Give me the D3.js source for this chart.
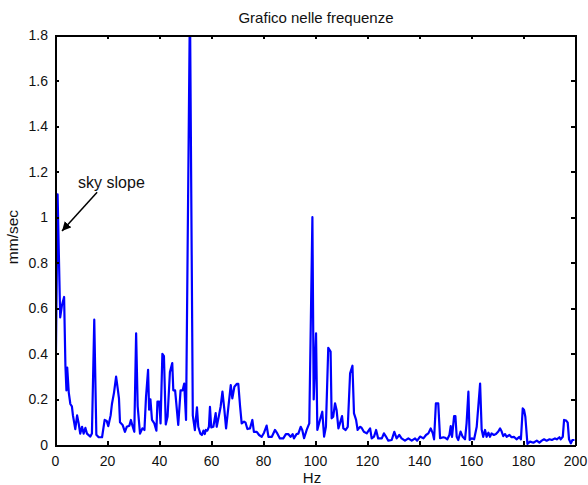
<!DOCTYPE html>
<meta charset="utf-8">
<style>
  body { margin: 0; background: #fff; }
  .axis path, .axis line { fill: none; stroke: #000; stroke-width: 2; shape-rendering: crispEdges; }
  .axis text { font-family: "Liberation Sans", Arial, sans-serif; font-size: 14px; fill: #111; }
  .lbl { font-family: "Liberation Sans", Arial, sans-serif; font-size: 15px; fill: #111; }
</style>
<script src="https://cdnjs.cloudflare.com/ajax/libs/d3/7.8.5/d3.min.js"></script>
<div id="chart"></div>
<script>
// spectrum: frequency (Hz) and amplitude (mm/sec)
var hz = [0, 1.0, 1.7, 2.0, 2.7, 3.5, 4.0, 4.4, 4.7, 5.3, 5.9, 6.5, 6.9, 7.8, 8.5, 9.1, 9.7, 10.4, 11.0, 11.7,
  12.3, 13.6, 14.2, 15.1, 15.9, 16.8, 18.1, 19.1, 19.9, 20.5, 21.4, 21.9, 22.7, 23.5, 24.1, 24.6, 25.0, 26.0, 26.9, 27.6,
  28.6, 29.2, 29.9, 30.5, 31.2, 31.8, 32.7, 33.6, 34.4, 35.0, 35.8, 36.2, 36.7, 37.3, 38.2, 39.0, 39.4, 40.1, 40.6, 41.3,
  41.9, 42.6, 43.3, 44.2, 45.1, 45.5, 46.2, 47.4, 48.3, 49.1, 49.7, 50.4, 51.9, 53.0, 53.8, 54.6, 55.1, 55.9, 56.5, 57.1,
  57.6, 58.0, 58.6, 59.2, 59.6, 60.1, 60.9, 61.8, 62.2, 63.1, 63.7, 64.4, 65.1, 65.8, 66.7, 67.6, 68.2, 69.0, 69.9, 70.5,
  71.2, 71.8, 72.7, 73.3, 74.0, 75.0, 75.9, 76.5, 77.6, 78.5, 79.5, 80.4, 81.4, 82.1, 83.4, 84.6, 85.5, 86.5, 87.8, 88.8,
  89.7, 90.6, 91.4, 91.9, 92.9, 93.6, 94.5, 95.1, 95.8, 96.8, 97.8, 99.0, 99.5, 100.4, 100.9, 101.9, 102.8, 103.5, 104.2, 105.1,
  106.0, 106.4, 107.0, 107.7, 108.3, 109.0, 109.6, 110.4, 110.9, 111.8, 112.6, 113.5, 114.4, 115.0, 115.8, 116.4, 117.3, 117.9, 118.8, 119.9,
  121.2, 121.8, 122.7, 123.5, 124.3, 125.7, 126.5, 127.3, 128.2, 129.5, 130.5, 131.4, 132.4, 133.3, 134.6, 135.9, 137.2, 138.5, 139.3, 140.4,
  141.7, 142.7, 143.6, 144.5, 145.3, 145.8, 146.5, 147.4, 148.1, 149.4, 150.0, 150.9, 151.7, 152.2, 152.7, 153.5, 154.0, 154.5, 155.1, 156.0,
  156.8, 157.7, 158.3, 159.0, 159.5, 160.3, 161.2, 162.2, 163.5, 164.1, 164.7, 165.4, 166.0, 166.7, 167.3, 167.9, 168.8, 169.6, 170.5, 171.2,
  171.8, 172.4, 173.1, 173.7, 174.8, 175.6, 176.5, 177.5, 178.6, 179.2, 179.9, 180.4, 180.9, 181.7, 182.7, 184.0, 185.3, 186.3, 187.2, 188.1,
  189.1, 190.2, 191.1, 192.3, 193.0, 194.0, 194.5, 195.3, 195.8, 196.6, 197.2, 197.7, 198.4, 199.0, 199.8];
var amp = [0.01, 1.10, 0.72, 0.56, 0.615, 0.65, 0.35, 0.24, 0.34, 0.23, 0.18, 0.17, 0.13, 0.07, 0.13, 0.095, 0.05, 0.08, 0.05, 0.075,
  0.05, 0.037, 0.05, 0.55, 0.045, 0.034, 0.034, 0.11, 0.105, 0.083, 0.13, 0.18, 0.23, 0.30, 0.25, 0.205, 0.10, 0.088, 0.058, 0.08,
  0.085, 0.11, 0.08, 0.058, 0.49, 0.17, 0.05, 0.073, 0.066, 0.21, 0.33, 0.155, 0.20, 0.11, 0.095, 0.063, 0.19, 0.19, 0.095, 0.40,
  0.39, 0.09, 0.125, 0.32, 0.36, 0.24, 0.24, 0.088, 0.24, 0.24, 0.27, 0.11, 1.95, 0.13, 0.065, 0.165, 0.08, 0.05, 0.044, 0.063,
  0.048, 0.066, 0.063, 0.08, 0.167, 0.077, 0.08, 0.14, 0.08, 0.132, 0.168, 0.234, 0.16, 0.073, 0.168, 0.263, 0.205, 0.256, 0.268, 0.268,
  0.168, 0.095, 0.103, 0.098, 0.07, 0.073, 0.11, 0.058, 0.058, 0.044, 0.036, 0.054, 0.085, 0.036, 0.036, 0.066, 0.051, 0.029, 0.029, 0.048,
  0.048, 0.036, 0.048, 0.029, 0.048, 0.05, 0.08, 0.066, 0.03, 0.066, 0.095, 1.0, 0.20, 0.49, 0.066, 0.11, 0.146, 0.037, 0.08, 0.427,
  0.41, 0.117, 0.124, 0.183, 0.154, 0.073, 0.095, 0.127, 0.073, 0.066, 0.08, 0.315, 0.348, 0.139, 0.11, 0.066, 0.08, 0.076, 0.058, 0.051,
  0.073, 0.029, 0.037, 0.066, 0.029, 0.029, 0.051, 0.037, 0.019, 0.022, 0.058, 0.029, 0.044, 0.029, 0.019, 0.029, 0.019, 0.029, 0.019, 0.037,
  0.029, 0.044, 0.051, 0.073, 0.051, 0.025, 0.183, 0.183, 0.03, 0.034, 0.032, 0.025, 0.044, 0.083, 0.036, 0.127, 0.127, 0.036, 0.022, 0.059,
  0.036, 0.025, 0.095, 0.234, 0.022, 0.029, 0.025, 0.08, 0.27, 0.068, 0.036, 0.066, 0.036, 0.054, 0.036, 0.051, 0.044, 0.048, 0.059, 0.073,
  0.059, 0.039, 0.048, 0.036, 0.044, 0.034, 0.036, 0.025, 0.036, 0.025, 0.161, 0.154, 0.124, 0.005, 0.015, 0.010, 0.019, 0.010, 0.019, 0.025,
  0.019, 0.025, 0.022, 0.029, 0.025, 0.034, 0.025, 0.036, 0.110, 0.107, 0.098, 0.025, 0.007, 0.022, 0.022];

var xTicks = [0, 20, 40, 60, 80, 100, 120, 140, 160, 180, 200];
var yTicks = [0, 0.2, 0.4, 0.6, 0.8, 1, 1.2, 1.4, 1.6, 1.8];
var note = {text: "sky slope", from: [16.2, 1.11], to: [2.7, 0.94]};

var margin = {top: 35, right: 13, bottom: 40, left: 55},
    width = 588 - margin.left - margin.right,
    height = 485 - margin.top - margin.bottom;

var svg = d3.select("#chart")
  .append("svg")
    .attr("width", 588)
    .attr("height", 485)
  .append("g")
    .attr("transform", "translate(" + margin.left + "," + margin.top + ")");

var x = d3.scaleLinear().domain([0, 200]).range([0, width]);
var y = d3.scaleLinear().domain([0, 1.8]).range([height, 0]);

svg.append("clipPath").attr("id", "clip")
  .append("rect").attr("width", width).attr("height", height);

// data line
var pts = hz.map(function(h, i) { return [h, amp[i]]; });
var line = d3.line()
  .x(function(d) { return x(d[0]); })
  .y(function(d) { return y(d[1]); });
svg.append("path")
  .datum(pts)
  .attr("clip-path", "url(#clip)")
  .attr("fill", "none")
  .attr("stroke", "#0000ff")
  .attr("stroke-width", 2.2)
  .attr("stroke-linejoin", "round")
  .attr("d", line);

// axes, ticks pointing inward like matlab box
svg.append("g").attr("class", "axis")
  .attr("transform", "translate(0," + height + ")")
  .call(d3.axisBottom(x).tickValues(xTicks).tickSize(-4).tickPadding(11).tickSizeOuter(0));
svg.append("g").attr("class", "axis")
  .call(d3.axisTop(x).tickValues(xTicks).tickSize(-4).tickFormat("").tickSizeOuter(0));
svg.append("g").attr("class", "axis")
  .call(d3.axisLeft(y).tickValues(yTicks).tickSize(-4).tickPadding(7).tickSizeOuter(0)
    .tickFormat(function(d) { return d3.format("~g")(d); }));
svg.append("g").attr("class", "axis")
  .attr("transform", "translate(" + width + ",0)")
  .call(d3.axisRight(y).tickValues(yTicks).tickSize(-4).tickFormat("").tickSizeOuter(0));

// titles
svg.append("text").attr("class", "lbl")
  .attr("x", width / 2 + 1).attr("y", -12)
  .attr("text-anchor", "middle")
  .text("Grafico nelle frequenze");
svg.append("text").attr("class", "lbl")
  .attr("x", width / 2 - 3).attr("y", height + 38)
  .attr("text-anchor", "middle")
  .text("Hz");
svg.append("text").attr("class", "lbl")
  .attr("transform", "rotate(-90)")
  .style("font-size", "15.5px")
  .attr("x", -(height / 2) + 3).attr("y", -37)
  .attr("text-anchor", "middle")
  .text("mm/sec");

// annotation arrow
svg.append("defs").append("marker")
  .attr("id", "head")
  .attr("viewBox", "0 0 10 10")
  .attr("refX", 10).attr("refY", 5)
  .attr("markerWidth", 9).attr("markerHeight", 9)
  .attr("markerUnits", "userSpaceOnUse")
  .attr("orient", "auto")
  .append("path").attr("d", "M0,0L10,5L0,10z").attr("fill", "#000");
svg.append("line")
  .attr("x1", x(note.from[0])).attr("y1", y(note.from[1]))
  .attr("x2", x(note.to[0])).attr("y2", y(note.to[1]))
  .attr("stroke", "#000").attr("stroke-width", 1.5)
  .attr("marker-end", "url(#head)");
svg.append("text").attr("class", "lbl")
  .style("font-size", "16px")
  .attr("x", x(note.from[0]) - 19).attr("y", y(note.from[1]) - 4)
  .text(note.text);
</script>
